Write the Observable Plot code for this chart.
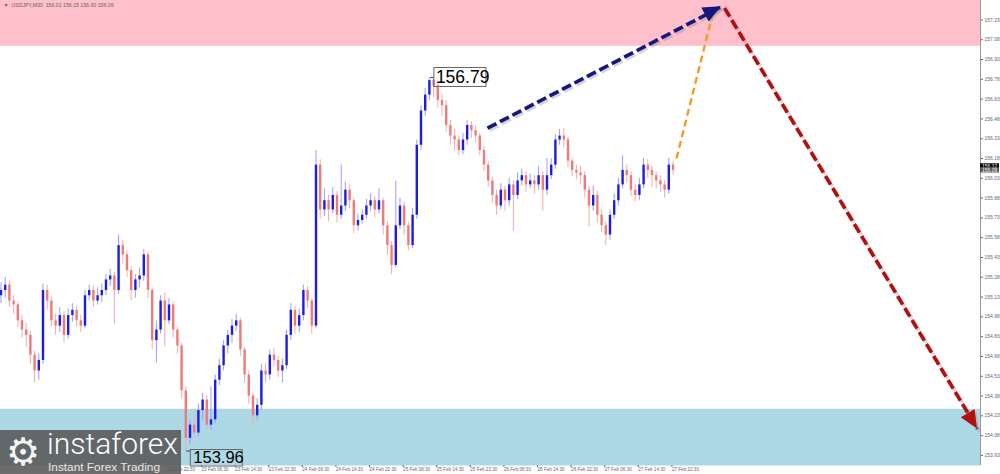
<!DOCTYPE html>
<html><head><meta charset="utf-8">
<script src="https://cdn.jsdelivr.net/npm/d3@7"></script>
<script src="https://cdn.jsdelivr.net/npm/@observablehq/plot@0.6"></script>
<style>
html,body{margin:0;padding:0;background:#fff;overflow:hidden}
#wrap{position:relative;width:1000px;height:474px}
#logo{position:absolute;left:0;top:430px;width:181px;height:44px;background:rgba(88,88,88,0.88)}
#logo span{position:absolute;white-space:nowrap;transform-origin:0 0}
#logo .gear{left:6px;top:3px;font-size:38px;line-height:1;font-family:"DejaVu Sans";color:#f4f4f4}
#logo .name{left:47px;top:2px;font:300 29px/0.88 Roboto,"Open Sans",sans-serif;color:#fff}
#logo .tag{left:48px;top:33px;font:10px/1 "Liberation Sans",Arial,sans-serif;color:#e6e6e6}
</style></head>
<body>
<div id="wrap"><div id="chart"></div>
<div id="logo"><span class="gear">⚙</span><span class="name">instaforex</span><span class="tag">Instant Forex Trading</span></div>
</div>
<script>
// ---------- data ----------
const symbolName = "USDJPY,M30";
const headerOHLC = [156.01, 156.15, 156.00, 156.09];
const firstBarTime = "2025-02-21T07:00Z"; // hourly bars
const firstOpen = 155.14;
const closes = [
155.18,155.22,155.10,155.07,154.95,154.88,154.84,154.69,154.57,154.65,
155.18,155.10,154.95,154.91,154.99,154.84,154.99,155.03,154.95,154.91,
155.14,155.18,155.10,155.14,155.18,155.26,155.29,155.18,155.52,155.45,
155.33,155.18,155.26,155.29,155.45,155.18,154.80,154.88,155.10,154.95,
155.07,154.88,154.76,154.42,154.06,154.16,154.10,154.27,154.35,154.16,
154.20,154.50,154.61,154.76,154.84,154.91,154.95,154.73,154.54,154.38,
154.23,154.31,154.57,154.54,154.69,154.65,154.57,154.61,154.84,155.03,
154.91,154.99,155.18,155.10,154.91,156.13,155.79,155.86,155.79,155.90,
155.75,155.82,155.94,155.86,155.67,155.71,155.75,155.82,155.86,155.79,
155.86,155.67,155.52,155.37,155.67,155.82,155.67,155.52,155.75,156.28,
156.54,156.66,156.77,156.73,156.62,156.58,156.43,156.35,156.32,156.24,
156.32,156.43,156.39,156.35,156.24,156.13,156.01,155.90,155.82,155.94,
155.86,155.98,155.90,156.01,156.05,155.98,156.01,155.98,156.05,155.94,
156.05,156.13,156.32,156.35,156.32,156.16,156.09,156.07,156.05,155.94,
155.82,155.90,155.75,155.67,155.60,155.75,155.86,155.98,156.09,156.05,
155.94,155.90,155.98,156.13,156.09,156.05,156.01,155.98,155.94,156.13,
156.09];
const highs = [
155.24,155.28,155.25,155.14,155.09,154.99,154.93,154.87,154.72,154.70,
155.23,155.22,155.13,155.00,155.05,155.02,155.04,155.08,155.06,154.99,
155.18,155.22,155.21,155.20,155.23,155.30,155.34,155.32,155.60,155.56,
155.48,155.36,155.30,155.35,155.49,155.47,155.20,154.95,155.14,155.16,
155.12,155.09,154.90,154.78,154.45,154.20,154.24,154.32,154.40,154.38,
154.45,154.54,154.66,154.80,154.88,154.96,155.00,154.97,154.75,154.57,
154.40,154.36,154.62,154.63,154.73,154.74,154.68,154.66,154.88,155.08,
155.06,155.04,155.22,155.21,155.12,156.24,156.17,155.95,155.90,155.96,
155.93,156.13,156.00,155.98,155.88,155.76,155.79,155.87,155.91,155.89,
155.95,155.88,155.70,155.55,156.01,155.88,155.85,155.70,155.80,156.32,
156.58,156.71,156.79,156.78,156.76,156.67,156.62,156.47,156.40,156.35,
156.37,156.47,156.46,156.43,156.37,156.27,156.16,156.04,155.94,155.99,
155.97,156.03,156.01,156.07,156.10,156.08,156.06,156.05,156.12,156.08,
156.18,156.18,156.36,156.40,156.41,156.34,156.18,156.13,156.12,156.08,
155.97,155.97,155.93,155.79,155.70,155.79,155.91,156.03,156.20,156.13,
156.08,155.98,156.03,156.18,156.17,156.12,156.08,156.05,156.01,156.18,
156.16];
const lows = [
155.08,155.12,155.05,155.00,154.90,154.82,154.75,154.62,154.48,154.50,
154.62,155.03,154.90,154.84,154.86,154.78,154.81,154.94,154.90,154.86,
154.89,155.10,155.05,155.07,155.09,155.14,155.21,154.92,155.15,155.38,
155.28,155.10,155.12,155.20,155.25,155.12,154.73,154.63,154.85,154.75,
154.92,154.82,154.70,154.36,153.96,154.01,154.05,154.07,154.20,154.12,
154.12,154.17,154.46,154.57,154.70,154.78,154.87,154.68,154.48,154.32,
154.16,154.19,154.27,154.48,154.50,154.60,154.52,154.48,154.58,154.80,
154.85,154.86,154.95,155.04,154.85,154.89,155.72,155.74,155.70,155.76,
155.69,155.72,155.78,155.80,155.61,155.63,155.68,155.72,155.78,155.73,
155.76,155.60,155.45,155.30,155.35,155.64,155.60,155.48,155.50,155.72,
156.24,156.50,156.62,156.64,156.56,156.50,156.38,156.28,156.24,156.20,
156.21,156.28,156.33,156.30,156.20,156.08,155.96,155.84,155.75,155.79,
155.78,155.82,155.63,155.87,155.97,155.92,155.95,155.91,155.94,155.78,
155.90,156.02,156.10,156.28,156.26,156.11,156.04,156.02,155.98,155.88,
155.66,155.78,155.69,155.62,155.52,155.56,155.72,155.82,155.95,155.99,
155.89,155.85,155.86,155.95,156.03,155.96,155.95,155.92,155.88,155.91,
156.05];
const yTicks = [153.93,154.08,154.23,154.38,154.53,154.68,154.83,154.98,155.13,155.28,155.43,155.58,
  155.73,155.88,156.03,156.18,156.33,156.48,156.63,156.78,156.93,157.08,157.23];
// ticks left of 22 Feb 22:30 sit under the logo watermark
const xTicks = ["2025-02-22T22:30Z",
  "2025-02-23T06:30Z","2025-02-23T14:30Z","2025-02-23T22:30Z","2025-02-24T06:30Z","2025-02-24T14:30Z",
  "2025-02-24T22:30Z","2025-02-25T06:30Z","2025-02-25T14:30Z","2025-02-25T22:30Z","2025-02-26T06:30Z",
  "2025-02-26T14:30Z","2025-02-26T22:30Z","2025-02-27T06:30Z","2025-02-27T14:30Z","2025-02-27T22:30Z"];
const resistanceZone = [157.03, 157.38];
const supportZone = [153.85, 154.28];
const extremes = [
  {time: "2025-02-25T13:00Z", price: 156.79, side: "top"},
  {time: "2025-02-23T03:00Z", price: 153.96, side: "bottom"}
];
const navyArrow   = {from: ["2025-02-26T02:50Z", 156.41], to: ["2025-02-28T10:33Z", 157.33]};
const orangeArrow = {from: ["2025-02-27T23:50Z", 156.18], to: ["2025-02-28T08:24Z", 157.27]};
const redArrow    = {from: ["2025-02-28T11:16Z", 157.32], to: ["2025-03-02T23:30Z", 154.13]};
const priceTags = [156.12, 156.09];
const xDomain = ["2025-02-21T06:53Z", "2025-03-03T00:13Z"];
const yDomain = [153.854, 157.377];

// ---------- build ----------
const t0 = new Date(firstBarTime).getTime();
const bars = closes.map((c, i) => ({
  t: new Date(t0 + i * 3600e3),
  o: i === 0 ? firstOpen : closes[i - 1],
  c, h: highs[i], l: lows[i]
}));
const seg = a => [{x1: new Date(a.from[0]), y1: a.from[1], x2: new Date(a.to[0]), y2: a.to[1]}];
const upBody = "#1c1ce8", dnBody = "#f07a7a", upWick = "#9c9cff", dnWick = "#f6aaaa";
const navy = "#16167c", orange = "#f59a2a", red = "#b01010";

function heads(index, scales) {
  const g = d3.create("svg:g");
  for (const [a, col] of [[navyArrow, navy], [redArrow, red]]) {
    const x1 = scales.x(new Date(a.from[0])), y1 = scales.y(a.from[1]);
    const x2 = scales.x(new Date(a.to[0])), y2 = scales.y(a.to[1]);
    const L = Math.hypot(x2 - x1, y2 - y1), ux = (x2 - x1) / L, uy = (y2 - y1) / L;
    const len = 18, w = 8;
    const bx = x2 - ux * len, by = y2 - uy * len;
    const pts = [[x2, y2], [bx - uy * w, by + ux * w], [bx + uy * w, by - ux * w]];
    g.append("polygon").attr("points", pts.map(p => p.join(",")).join(" "))
      .attr("fill", "#999").attr("opacity", 0.35).attr("transform", "translate(2,2)");
    g.append("polygon").attr("points", pts.map(p => p.join(",")).join(" ")).attr("fill", col);
  }
  return g.node();
}
function extremeLabels(index, scales) {
  const g = d3.create("svg:g");
  for (const e of extremes) {
    const x = scales.x(new Date(e.time)) + 5, y = scales.y(e.price);
    const top = e.side === "top" ? y - 10 : y - 1.5;
    const h = e.side === "top" ? 19 : 16.5;
    const fs = e.side === "top" ? 17.5 : 16.5;
    const ly = e.side === "top" ? 10 : 1.5;
    const gg = g.append("g").attr("transform", `translate(${x},${top})`);
    gg.append("line").attr("x1", -4).attr("x2", 0).attr("y1", ly).attr("y2", ly).attr("stroke", "#444");
    gg.append("rect").attr("width", 52).attr("height", h).attr("fill", "none").attr("stroke", "#666").attr("stroke-width", 1);
    gg.append("text").attr("x", e.side === "top" ? 2 : 3).attr("y", h - 3.3).attr("text-anchor", "start")
      .attr("font-family", "Liberation Sans, Arial, sans-serif")
      .attr("font-size", fs).attr("fill", "#000").text(e.price.toFixed(2));
  }
  return g.node();
}
function tags(index, scales, values, dim) {
  const g = d3.create("svg:g");
  const x = dim.width - dim.marginRight;
  priceTags.forEach((p, i) => {
    const y = scales.y(p);
    g.append("rect").attr("x", x).attr("y", y - 2.6).attr("width", 19).attr("height", 5.2).attr("fill", i === 0 ? "#000" : "#555");
    g.append("text").attr("x", x + 2).attr("y", y + 1.8).attr("text-anchor", "start").attr("font-size", 5).attr("fill", "#fff")
      .attr("font-family", "Liberation Sans, Arial, sans-serif").text(p.toFixed(2));
  });
  return g.node();
}

const chart = Plot.plot({
  width: 1000, height: 474,
  marginLeft: 0, marginRight: 20, marginTop: 0, marginBottom: 9,
  style: {background: "transparent", fontFamily: "Liberation Sans, Arial, sans-serif", overflow: "visible"},
  x: {type: "utc", domain: xDomain.map(d => new Date(d))},
  y: {domain: yDomain},
  color: {type: "identity"},
  marks: [
    Plot.rect([resistanceZone], {y1: d => d[0], y2: d => d[1], fill: "#ffc0cb"}),
    Plot.rect([supportZone], {y1: d => d[0], y2: d => d[1], fill: "#add8e6"}),
    Plot.ruleX([new Date(xDomain[1])], {stroke: "#9a9a9a", strokeWidth: 1}),
    Plot.axisY(yTicks, {anchor: "right", tickFormat: ".2f", tickSize: 2, tickPadding: 2, fontSize: 5, color: "#666"}),
    Plot.axisX(xTicks.map(d => new Date(d)), {anchor: "bottom", tickFormat: d3.utcFormat("%d %b %H:%M"), tickSize: 2, tickPadding: 0.5,
      textAnchor: "start", dx: 1, fontSize: 4.6, color: "#666"}),
    Plot.ruleX(bars, {x: "t", y1: "l", y2: "h", stroke: d => d.c >= d.o ? upWick : dnWick, strokeWidth: 1}),
    Plot.ruleX(bars, {x: "t", y1: "o", y2: "c", stroke: d => d.c >= d.o ? upBody : dnBody, strokeWidth: 2.4}),
    Plot.link(seg(navyArrow), {x1: "x1", y1: "y1", x2: "x2", y2: "y2", stroke: "#888", strokeOpacity: 0.35, strokeWidth: 3.6, strokeDasharray: "10,4", dx: 2, dy: 2}),
    Plot.link(seg(redArrow), {x1: "x1", y1: "y1", x2: "x2", y2: "y2", stroke: "#888", strokeOpacity: 0.35, strokeWidth: 3.6, strokeDasharray: "10,4", dx: 2, dy: 2}),
    Plot.link(seg(navyArrow), {x1: "x1", y1: "y1", x2: "x2", y2: "y2", stroke: navy, strokeWidth: 3.6, strokeDasharray: "10,4"}),
    Plot.link(seg(orangeArrow), {x1: "x1", y1: "y1", x2: "x2", y2: "y2", stroke: orange, strokeWidth: 2.4, strokeDasharray: "7,4"}),
    Plot.link(seg(redArrow), {x1: "x1", y1: "y1", x2: "x2", y2: "y2", stroke: red, strokeWidth: 3.6, strokeDasharray: "10,4"}),
    heads,
    extremeLabels,
    tags,
    Plot.text([`▼  ${symbolName}  ${headerOHLC.map(v => v.toFixed(2)).join(" ")}`], {frameAnchor: "top-left", dx: 3, dy: 3,
      textAnchor: "start", lineAnchor: "top", fontSize: 5.2, fill: "#666"})
  ]
});
document.getElementById("chart").appendChild(chart);

// fit logo text widths
function fit(sel, w) {
  const el = document.querySelector(sel);
  const cw = el.getBoundingClientRect().width;
  if (cw > 0) el.style.transform = `scaleX(${w / cw})`;
}
fit("#logo .name", 131);
fit("#logo .tag", 112);
</script>
</body></html>
